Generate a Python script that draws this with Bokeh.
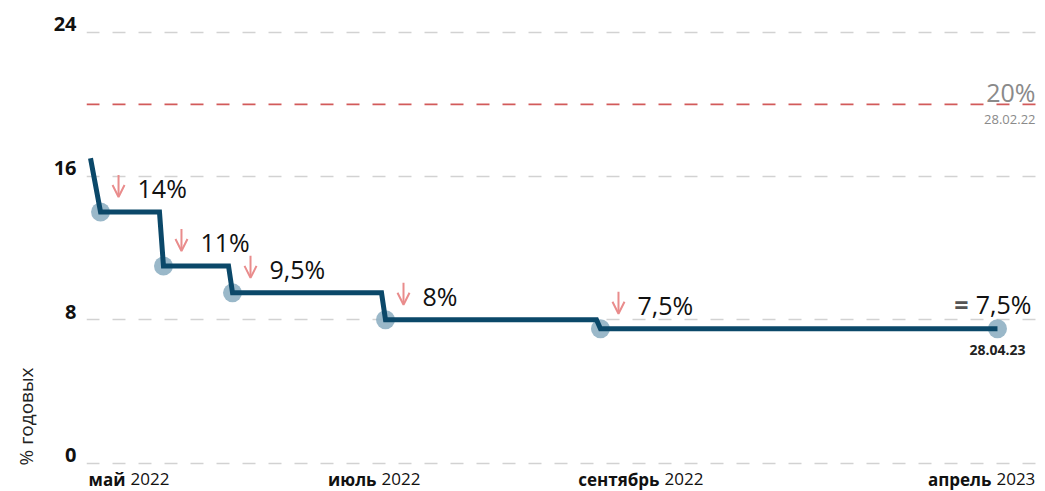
import math
from bokeh.plotting import figure
from bokeh.models import (Range1d, FixedTicker, Span, Title, ColumnDataSource,
                          Arrow, OpenHead)
from bokeh.core.properties import value
from bokeh.embed import file_html
from bokeh.resources import INLINE

# ---------------- data ----------------
start_rate = 17.0          # rate before the first cut
start_x = 0.42             # position along the (compressed) time axis
event_x = [1.47, 8.06, 15.29, 31.31, 53.82]
event_rate = [14.0, 11.0, 9.5, 8.0, 7.5]
end_x = 95.39
end_rate = 7.5
end_date = "28.04.23"
ref_rate = 20.0
ref_date = "28.02.22"

tick_x = [4.29, 30.58, 60.21, 94.97]
tick_months = ["май", "июль", "сентябрь", "апрель"]
tick_years = ["2022", "2022", "2022", "2023"]
y_ticks = [0, 8, 16, 24]
y_title = "% годовых"

def fmt(v):
    return f"{v:g}".replace(".", ",") + "%"

# ---------------- geometry ----------------
W, H = 1045, 491
B_LEFT, B_RIGHT, B_TOP, B_BOTTOM = 86, 4, 0, 0
X0, X1 = 0.0, 100.0
Y0, Y1 = -1.56, 25.78
ppu_x = (W - B_LEFT - B_RIGHT) / (X1 - X0)
ppu_y = (H - B_TOP - B_BOTTOM) / (Y1 - Y0)

FONT = "Open Sans"
LINE_C = "#0b4869"
DOT_C = "#8fb0c3"
PINK = "#e98c8c"
GREY = "#8a8a8a"

p = figure(width=W, height=H, output_backend="svg", toolbar_location=None,
           x_range=Range1d(X0, X1), y_range=Range1d(Y0, Y1), x_axis_location=None,
           min_border_left=B_LEFT, min_border_right=B_RIGHT,
           min_border_top=B_TOP, min_border_bottom=B_BOTTOM)
p.outline_line_color = None
p.background_fill_color = "white"
p.border_fill_color = "white"

# y axis: labels sit just above their grid lines
lab_shift = 8 / ppu_y
p.yaxis.ticker = FixedTicker(ticks=[v + lab_shift for v in y_ticks])
p.yaxis.major_label_overrides = {v + lab_shift: str(v) for v in y_ticks}
p.ygrid.ticker = FixedTicker(ticks=y_ticks)
p.xgrid.visible = False
p.ygrid.grid_line_color = "#d2d2d2"
p.ygrid.grid_line_dash = "13 13"
p.ygrid.grid_line_width = 1.6
p.yaxis.axis_line_color = None
p.yaxis.major_tick_line_color = None
p.yaxis.minor_tick_line_color = None
p.yaxis.major_tick_out = 0
p.yaxis.major_tick_in = 0
p.yaxis.major_label_standoff = 10
p.yaxis.major_label_text_font = FONT
p.yaxis.major_label_text_font_style = "bold"
p.yaxis.major_label_text_font_size = "20px"
p.yaxis.major_label_text_color = "#111111"

# y title near the bottom on the left
p.add_layout(Title(text=y_title, align="left", offset=26, standoff=20,
                   vertical_align="top", text_font=FONT,
                   text_font_size="19px", text_font_style="normal",
                   text_color="#222222"), "left")

# reference (previous) rate line
p.add_layout(Span(location=ref_rate, dimension="width", line_color="#d25a5a",
                  line_dash="13 13", line_width=1.8))

# step path
slant = 4 / ppu_x
px, py = [start_x], [start_rate]
prev = start_rate
for i, (x, r) in enumerate(zip(event_x, event_rate)):
    if i > 0:
        px.append(x - slant)
        py.append(prev)
    px.append(x)
    py.append(r)
    prev = r
px.append(end_x)
py.append(end_rate)

dots_x = event_x + [end_x]
dots_y = event_rate + [end_rate]
p.scatter(dots_x, dots_y, size=19, fill_color=DOT_C, line_color=None, fill_alpha=0.9)
p.line(px, py, line_color=LINE_C, line_width=5, line_join="miter")

# labels for cuts
p.text(event_x, event_rate, text=[fmt(v) for v in event_rate], x_offset=37, y_offset=-24,
       text_font=value(FONT), text_font_size="25px", text_color="#111111",
       text_align="left", text_baseline="middle")

arrow_src = ColumnDataSource(dict(
    xs=[x + 18 / ppu_x for x in event_x], xe=[x + 18 / ppu_x for x in event_x],
    ys=[r + 37 / ppu_y for r in event_rate], ye=[r + 15 / ppu_y for r in event_rate]))
p.add_layout(Arrow(x_start="xs", y_start="ys", x_end="xe", y_end="ye", source=arrow_src,
                   line_color=PINK, line_width=2,
                   end=OpenHead(size=12, line_color=PINK, line_width=2)))

# end labels
p.text([end_x], [end_rate], text=[fmt(end_rate)], x_offset=34, y_offset=-25,
       text_font=value(FONT), text_font_size="25px", text_color="#111111",
       text_align="right", text_baseline="middle")
p.text([end_x], [end_rate], text=["="], x_offset=-29, y_offset=-25,
       text_font=value(FONT), text_font_size="25px", text_color="#555555",
       text_font_style="bold", text_align="right", text_baseline="middle")
p.text([end_x], [end_rate], text=[end_date], x_offset=0, y_offset=21,
       text_font=value(FONT), text_font_size="14px", text_color="#222222",
       text_font_style="bold", text_align="center", text_baseline="middle")

p.text([X1], [ref_rate], text=[fmt(ref_rate)], x_offset=-6, y_offset=-12,
       text_font=value(FONT), text_font_size="25px", text_color=GREY,
       text_align="right", text_baseline="middle")
p.text([X1], [ref_rate], text=[ref_date], x_offset=-6, y_offset=15,
       text_font=value(FONT), text_font_size="13px", text_color=GREY,
       text_align="right", text_baseline="middle")

# x tick labels (month bold, year regular), drawn just under the zero line
zeros = [0] * len(tick_x)
p.text(tick_x, zeros, text=tick_months, x_offset=-2, y_offset=16,
       text_font=value(FONT), text_font_size="17px", text_font_style="bold",
       text_color="#111111", text_align="right", text_baseline="middle")
p.text(tick_x, zeros, text=tick_years, x_offset=3, y_offset=16,
       text_font=value(FONT), text_font_size="17px",
       text_color="#111111", text_align="left", text_baseline="middle")

open("out.html", "w").write(file_html(p, INLINE))
